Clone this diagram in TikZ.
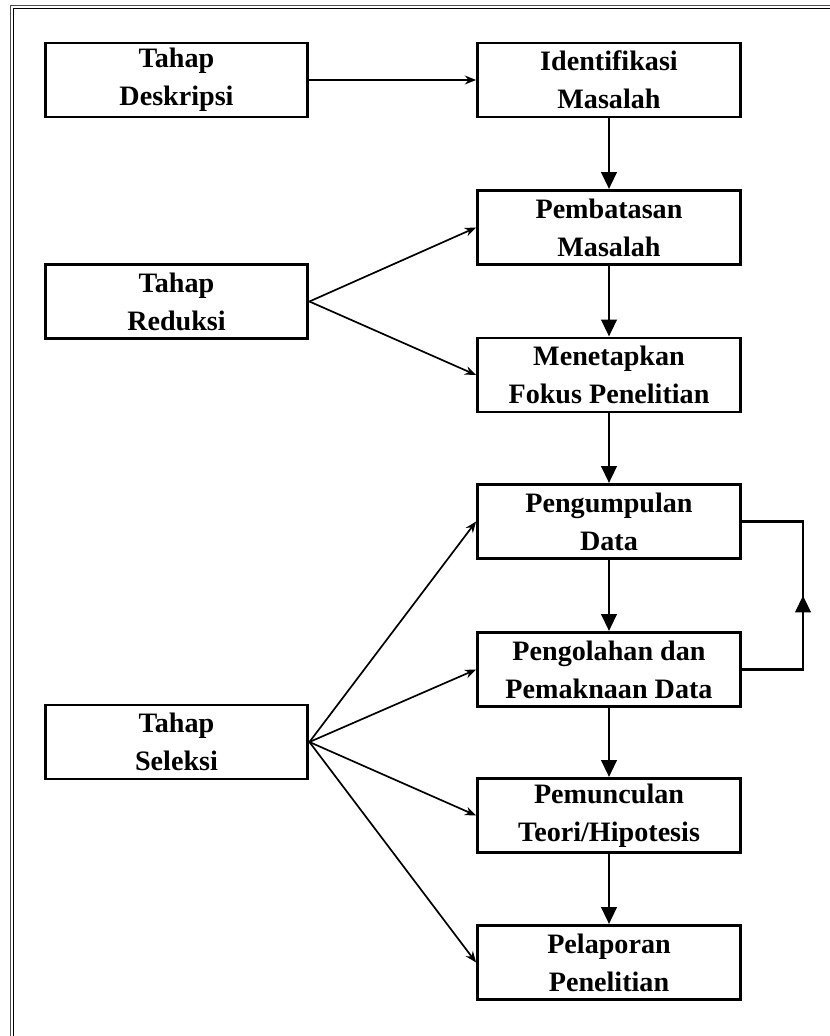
\documentclass[tikz,border=0pt]{standalone}
\usepackage{fontspec}
\setmainfont{Liberation Serif}
\usetikzlibrary{arrows.meta,decorations.markings}

\begin{document}
\begin{tikzpicture}[x=0.025cm,y=-0.025cm,
  stagebox/.style={draw, line width=2.1pt, minimum width=6.57cm, minimum height=1.85cm,
    inner sep=0pt, align=center, font=\bfseries\fontsize{20}{27}\selectfont},
  thinarrow/.style={line width=1.2pt, -{Stealth[length=0.28cm,width=0.22cm]}},
  thickarrow/.style={line width=2.1pt, -{Triangle[length=0.42cm,width=0.38cm]}},
  loopline/.style={line width=2.1pt, postaction={decorate}, decoration={markings,
    mark=at position 0.5 with {\arrow{Triangle[length=0.42cm,width=0.38cm]}}}}]
\useasboundingbox (0,0) rectangle (829,1036);
% frame
\draw[line width=0.6pt, black!70] (10,5) rectangle (900,1100);
\draw[line width=0.6pt] (13,8) rectangle (897,1097);
% left column
\node[stagebox] (deskripsi) at (176.5,80) {Tahap\\Deskripsi};
\node[stagebox] (reduksi) at (176.5,301.5) {Tahap\\Reduksi};
\node[stagebox] (seleksi) at (176.5,742) {Tahap\\Seleksi};
% right column
\node[stagebox] (identifikasi) at (609,80) {Identifikasi\\Masalah};
\node[stagebox] (pembatasan) at (609,227.5) {Pembatasan\\Masalah};
\node[stagebox] (fokus) at (609,375) {Menetapkan\\Fokus Penelitian};
\node[stagebox] (pengumpulan) at (609,521.5) {Pengumpulan\\Data};
\node[stagebox] (pengolahan) at (609,669.5) {Pengolahan dan\\Pemaknaan Data};
\node[stagebox] (teori) at (609,815.5) {Pemunculan\\Teori/Hipotesis};
\node[stagebox] (laporan) at (609,962.5) {Pelaporan\\Penelitian};
% arrows
\draw[thinarrow] (deskripsi.east) -- (identifikasi.west);
\draw[thinarrow] (reduksi.east) -- (pembatasan.west);
\draw[thinarrow] (reduksi.east) -- (fokus.west);
\draw[thinarrow] (seleksi.east) -- (pengumpulan.west);
\draw[thinarrow] (seleksi.east) -- (pengolahan.west);
\draw[thinarrow] (seleksi.east) -- (teori.west);
\draw[thinarrow] (seleksi.east) -- (laporan.west);
\draw[thickarrow] (identifikasi) -- (pembatasan);
\draw[thickarrow] (pembatasan) -- (fokus);
\draw[thickarrow] (fokus) -- (pengumpulan);
\draw[thickarrow] (pengumpulan) -- (pengolahan);
\draw[thickarrow] (pengolahan) -- (teori);
\draw[thickarrow] (teori) -- (laporan);
\draw[loopline] (pengolahan.east) -- (803,669.5) -- (803,521.5) -- (pengumpulan.east);
\end{tikzpicture}
\end{document}
